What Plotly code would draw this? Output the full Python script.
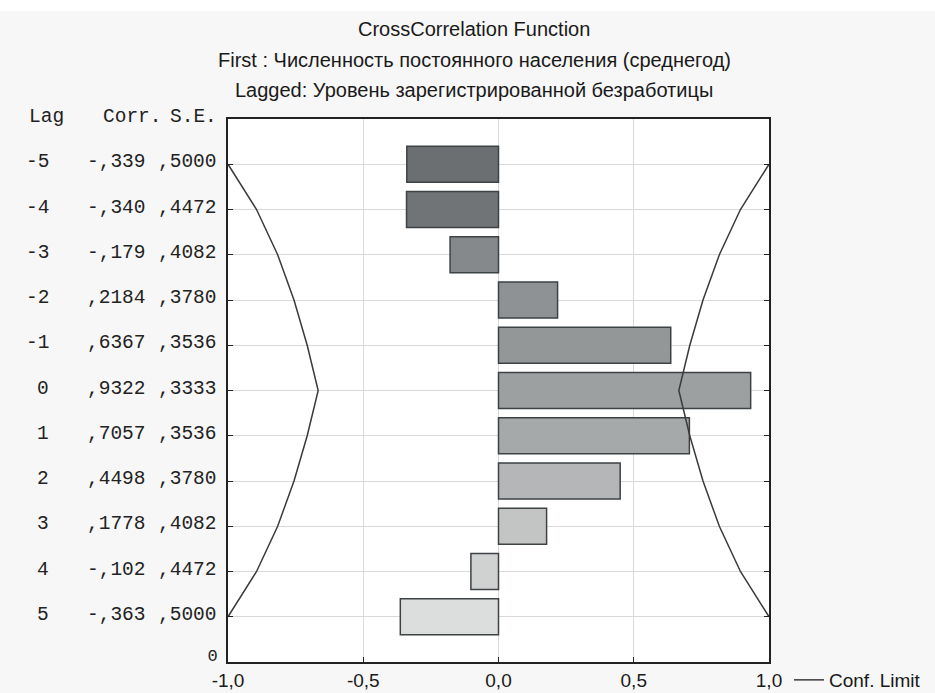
import plotly.graph_objects as go

lags = [-5, -4, -3, -2, -1, 0, 1, 2, 3, 4, 5]
corr = [-0.339, -0.340, -0.179, 0.2184, 0.6367, 0.9322, 0.7057, 0.4498, 0.1778, -0.102, -0.363]
se = [0.5000, 0.4472, 0.4082, 0.3780, 0.3536, 0.3333, 0.3536, 0.3780, 0.4082, 0.4472, 0.5000]
corr_txt = ["-,339", "-,340", "-,179", ",2184", ",6367", ",9322", ",7057", ",4498", ",1778", "-,102", "-,363"]
se_txt = [",5000", ",4472", ",4082", ",3780", ",3536", ",3333", ",3536", ",3780", ",4082", ",4472", ",5000"]
bar_colors = ["#6b6f71", "#707476", "#85898b", "#8f9294", "#949798", "#9da0a1",
              "#a6a9aa", "#b4b6b7", "#c3c5c5", "#d0d2d2", "#dcdddd"]
xtick_vals = [-1.0, -0.5, 0.0, 0.5, 1.0]
xtick_text = ["-1,0", "-0,5", "0,0", "0,5", "1,0"]
titles = ["CrossCorrelation Function",
          "First : Численность постоянного населения (среднегод)",
          "Lagged: Уровень зарегистрированной безработицы"]

ypos = [6 - l for l in lags]

W, H = 935, 693
ML, MR, MT, MB = 228, 166, 119, 31
PW, PH = W - ML - MR, H - MT - MB

def px(x):
    return (x - ML) / PW

def py(y):
    return (H - MB - y) / PH

SANS = "Liberation Sans, Arial, sans-serif"
MONO = "Liberation Mono, Courier New, monospace"

fig = go.Figure()
fig.add_trace(go.Bar(
    x=corr, y=ypos, orientation="h", width=0.8,
    marker=dict(color=bar_colors, line=dict(color="#3d4244", width=1.5)),
    showlegend=False, hoverinfo="x+y",
))

cx, cy = [], []
for s, yv in zip(se, ypos):
    cx.append(-2 * s); cy.append(yv)
cx.append(None); cy.append(None)
for s, yv in zip(se, ypos):
    cx.append(2 * s); cy.append(yv)
fig.add_trace(go.Scatter(
    x=cx, y=cy, mode="lines", name="Conf. Limit",
    line=dict(color="#3a3a3a", width=1.5), showlegend=True,
))

ann = []
for i, t in enumerate(titles):
    ann.append(dict(text=t, xref="paper", yref="paper", x=px(474), y=py([29, 60, 90][i]),
                    xanchor="center", yanchor="middle", showarrow=False,
                    font=dict(family=SANS, size=20, color="#1a1a1a")))

hdr_font = dict(family=MONO, size=19.5, color="#222")
ann.append(dict(text="Lag", xref="paper", yref="paper", x=px(27), y=py(117),
                xanchor="left", yanchor="middle", showarrow=False, font=hdr_font))
ann.append(dict(text="Corr.", xref="paper", yref="paper", x=px(164), y=py(117),
                xanchor="right", yanchor="middle", showarrow=False, font=hdr_font))
ann.append(dict(text="S.E.", xref="paper", yref="paper", x=px(219), y=py(117),
                xanchor="right", yanchor="middle", showarrow=False, font=hdr_font))

for l, c, s, yv in zip(lags, corr_txt, se_txt, ypos):
    for txt, xr in [(str(l), 51), (c, 148), (s, 219)]:
        ann.append(dict(text=txt, xref="paper", yref="y", x=px(xr), y=yv, yshift=2,
                        xanchor="right", yanchor="middle", showarrow=False, font=hdr_font))

fig.update_layout(
    width=W, height=H,
    margin=dict(l=ML, r=MR, t=MT, b=MB, autoexpand=False),
    paper_bgcolor="#f7f7f7", plot_bgcolor="white",
    annotations=ann,
    bargap=0.2,
    shapes=[dict(type="rect", xref="paper", yref="paper",
                 x0=px(0), x1=px(W), y0=py(11), y1=py(0),
                 fillcolor="white", line=dict(width=0), layer="below")],
    legend=dict(x=px(789), y=py(680), xanchor="left", yanchor="middle",
                bgcolor="rgba(0,0,0,0)", font=dict(family=SANS, size=19, color="#1a1a1a"),
                itemwidth=30, tracegroupgap=0),
    xaxis=dict(range=[-1, 1], tickvals=xtick_vals, ticktext=xtick_text,
               showgrid=True, gridcolor="#d9d9d9", gridwidth=1,
               showline=True, linecolor="#222", linewidth=2, mirror=True,
               ticks="inside", ticklen=5, tickcolor="#222", ticklabelstandoff=0,
               zeroline=False, tickfont=dict(family=SANS, size=19, color="#1a1a1a")),
    yaxis=dict(range=[0, 12], tickvals=list(range(0, 12)),
               ticktext=["0"] + [""] * 11,
               showgrid=True, gridcolor="#d9d9d9", gridwidth=1,
               showline=True, linecolor="#222", linewidth=2, mirror="ticks",
               ticks="inside", ticklen=5, tickcolor="#222", ticklabelstandoff=5,
               ticklabelshift=-7,
               zeroline=False, tickfont=dict(family=MONO, size=17, color="#222")),
)

fig.write_html("out.html", config={"displayModeBar": False},
               post_script="document.body.style.margin='0';document.body.style.overflow='hidden';")
